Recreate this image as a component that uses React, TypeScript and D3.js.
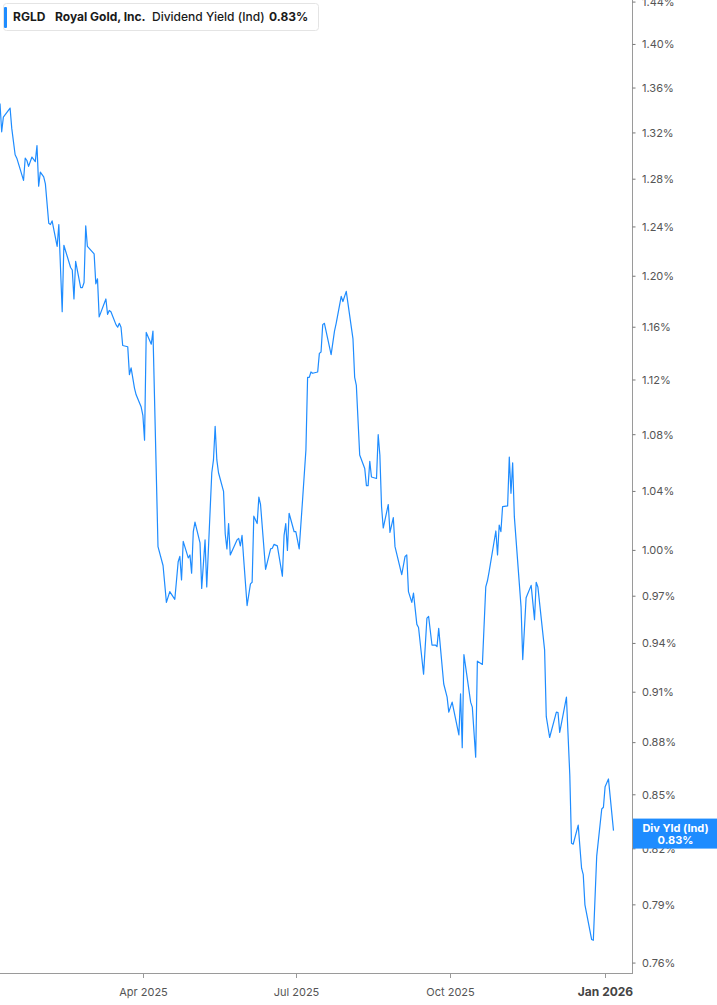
import * as React from 'react';
import * as d3 from 'd3';

// RGLD dividend yield (indicated)
const dates = [
  '2025-01-06', '2025-01-07', '2025-01-08', '2025-01-10', '2025-01-12', '2025-01-13', '2025-01-15', '2025-01-16', '2025-01-20', '2025-01-21',
  '2025-01-22', '2025-01-23', '2025-01-25', '2025-01-27', '2025-01-28', '2025-01-29', '2025-01-30', '2025-02-01', '2025-02-02', '2025-02-04',
  '2025-02-05', '2025-02-06', '2025-02-09', '2025-02-10', '2025-02-12', '2025-02-13', '2025-02-17', '2025-02-18', '2025-02-19', '2025-02-20',
  '2025-02-23', '2025-02-24', '2025-02-25', '2025-02-26', '2025-02-27', '2025-03-03', '2025-03-04', '2025-03-05', '2025-03-06', '2025-03-10',
  '2025-03-11', '2025-03-12', '2025-03-13', '2025-03-16', '2025-03-17', '2025-03-18', '2025-03-19', '2025-03-20', '2025-03-23', '2025-03-24',
  '2025-03-25', '2025-03-27', '2025-03-28', '2025-03-31', '2025-04-01', '2025-04-02', '2025-04-03', '2025-04-06', '2025-04-07', '2025-04-10',
  '2025-04-13', '2025-04-15', '2025-04-17', '2025-04-20', '2025-04-22', '2025-04-23', '2025-04-24', '2025-04-25', '2025-04-28', '2025-04-29',
  '2025-04-30', '2025-05-01', '2025-05-02', '2025-05-05', '2025-05-06', '2025-05-08', '2025-05-09', '2025-05-12', '2025-05-13', '2025-05-14',
  '2025-05-15', '2025-05-16', '2025-05-19', '2025-05-20', '2025-05-21', '2025-05-22', '2025-05-23', '2025-05-27', '2025-05-28', '2025-05-29',
  '2025-05-30', '2025-05-31', '2025-06-02', '2025-06-04', '2025-06-05', '2025-06-06', '2025-06-08', '2025-06-09', '2025-06-10', '2025-06-13',
  '2025-06-16', '2025-06-17', '2025-06-18', '2025-06-20', '2025-06-23', '2025-06-24', '2025-06-25', '2025-06-26', '2025-06-27', '2025-06-30',
  '2025-07-01', '2025-07-03', '2025-07-05', '2025-07-07', '2025-07-08', '2025-07-09', '2025-07-10', '2025-07-11', '2025-07-14', '2025-07-15',
  '2025-07-16', '2025-07-17', '2025-07-18', '2025-07-22', '2025-07-24', '2025-07-25', '2025-07-28', '2025-07-29', '2025-07-31', '2025-08-04',
  '2025-08-05', '2025-08-06', '2025-08-08', '2025-08-11', '2025-08-12', '2025-08-13', '2025-08-14', '2025-08-15', '2025-08-18', '2025-08-19',
  '2025-08-20', '2025-08-21', '2025-08-22', '2025-08-25', '2025-08-26', '2025-08-28', '2025-08-29', '2025-09-02', '2025-09-04', '2025-09-05',
  '2025-09-06', '2025-09-08', '2025-09-09', '2025-09-11', '2025-09-12', '2025-09-15', '2025-09-17', '2025-09-18', '2025-09-20', '2025-09-22',
  '2025-09-23', '2025-09-24', '2025-09-27', '2025-09-29', '2025-09-30', '2025-10-02', '2025-10-06', '2025-10-07', '2025-10-08', '2025-10-09',
  '2025-10-13', '2025-10-14', '2025-10-16', '2025-10-17', '2025-10-20', '2025-10-22', '2025-10-23', '2025-10-24', '2025-10-28', '2025-10-29',
  '2025-10-30', '2025-10-31', '2025-11-01', '2025-11-04', '2025-11-05', '2025-11-06', '2025-11-07', '2025-11-08', '2025-11-12', '2025-11-13',
  '2025-11-15', '2025-11-18', '2025-11-20', '2025-11-21', '2025-11-22', '2025-11-26', '2025-11-27', '2025-11-29', '2025-12-03', '2025-12-04',
  '2025-12-05', '2025-12-09', '2025-12-11', '2025-12-12', '2025-12-13', '2025-12-16', '2025-12-18', '2025-12-19', '2025-12-20', '2025-12-24',
  '2025-12-25', '2025-12-27', '2025-12-30', '2025-12-31', '2026-01-01', '2026-01-03', '2026-01-06',
];

const yields = [
  1.346, 1.321, 1.334, 1.338, 1.342, 1.324, 1.301, 1.298, 1.279, 1.298,
  1.296, 1.291, 1.299, 1.295, 1.309, 1.274, 1.286, 1.282, 1.276, 1.243,
  1.242, 1.245, 1.224, 1.242, 1.172, 1.225, 1.207, 1.205, 1.182, 1.212,
  1.191, 1.191, 1.195, 1.241, 1.224, 1.218, 1.194, 1.198, 1.168, 1.182,
  1.170, 1.173, 1.172, 1.162, 1.160, 1.163, 1.160, 1.146, 1.145, 1.124,
  1.129, 1.114, 1.109, 1.100, 1.094, 1.076, 1.156, 1.147, 1.157, 1.0025,
  0.990, 0.966, 0.973, 0.968, 0.9925, 0.996, 0.9805, 1.006, 0.995, 0.997,
  0.985, 1.0125, 1.019, 1.005, 0.975, 1.007, 0.976, 1.053, 1.062, 1.086,
  1.062, 1.053, 1.040, 1.011, 1.001, 1.018, 0.997, 1.007, 1.008, 1.003,
  1.010, 0.994, 0.964, 0.978, 0.979, 1.023, 1.018, 1.036, 1.031, 0.9875,
  1.001, 1.0014, 1.004, 1.003, 0.983, 1.010, 1.018, 1.000, 1.025, 1.0125,
  1.0125, 1.001, 1.034, 1.069, 1.122, 1.122, 1.126, 1.125, 1.126, 1.140,
  1.141, 1.162, 1.163, 1.139, 1.157, 1.163, 1.184, 1.180, 1.188, 1.151,
  1.122, 1.116, 1.0655, 1.056, 1.044, 1.044, 1.061, 1.050, 1.049, 1.080,
  1.0655, 1.0295, 1.015, 1.031, 1.012, 1.022, 1.0025, 0.984, 0.996, 0.997,
  0.973, 0.966, 0.972, 0.952, 0.950, 0.921, 0.956, 0.957, 0.939, 0.939,
  0.938, 0.9495, 0.915, 0.907, 0.898, 0.904, 0.8845, 0.909, 0.877, 0.933,
  0.904, 0.901, 0.8715, 0.929, 0.927, 0.976, 0.980, 0.986, 1.013, 0.997,
  1.017, 1.0125, 1.0295, 1.030, 1.064, 1.0387, 1.060, 1.0227, 0.963, 0.930,
  0.969, 0.977, 0.955, 0.979, 0.976, 0.936, 0.8953, 0.883, 0.898, 0.8977,
  0.886, 0.907, 0.861, 0.823, 0.8225, 0.833, 0.8095, 0.806, 0.790, 0.772,
  0.7716, 0.816, 0.842, 0.843, 0.8546, 0.859, 0.83,
];

const yTicks = [0.76, 0.79, 0.82, 0.85, 0.88, 0.91, 0.94, 0.97, 1.0, 1.04, 1.08, 1.12, 1.16, 1.2, 1.24, 1.28, 1.32, 1.36, 1.4, 1.44];
const xTicks = ['2025-04-01', '2025-07-01', '2025-10-01', '2026-01-01'];
const xTickLabels = ['Apr 2025', 'Jul 2025', 'Oct 2025', 'Jan 2026'];

const W = 717;
const H = 1005;
const plotRight = 632;
const plotBottom = 973;
const blue = '#1e8cff';
const font = "Inter, 'Noto Sans', sans-serif";

export default function App() {
  const ref = React.useRef<SVGSVGElement>(null);

  React.useEffect(() => {
    const svg = d3.select(ref.current);
    svg.selectAll('*').remove();

    const parse = d3.timeParse('%Y-%m-%d');
    const data = dates.map((d, i) => ({ date: parse(d) as Date, value: yields[i] }));

    const x = d3.scaleTime()
      .domain([parse('2025-01-06') as Date, parse('2026-01-17') as Date])
      .range([0, plotRight]);
    const y = d3.scaleLog().domain([0.755, 1.442]).range([plotBottom, 0]);

    // price line
    const line = d3.line<{ date: Date; value: number }>()
      .x(d => x(d.date))
      .y(d => y(d.value));

    svg.append('path')
      .datum(data)
      .attr('fill', 'none')
      .attr('stroke', blue)
      .attr('stroke-width', 1.2)
      .attr('stroke-linejoin', 'round')
      .attr('d', line);

    // right axis
    const yAxis = svg.append('g');
    yAxis.append('line')
      .attr('x1', plotRight + 0.5).attr('x2', plotRight + 0.5)
      .attr('y1', 0).attr('y2', plotBottom)
      .attr('stroke', '#9a9a9a');
    const yt = yAxis.selectAll('g.tick').data(yTicks).enter().append('g')
      .attr('transform', d => `translate(${plotRight},${y(d)})`);
    yt.append('line').attr('x1', 0.5).attr('x2', 3.5).attr('stroke', '#777');
    yt.append('text')
      .attr('x', 10)
      .attr('dy', '0.35em')
      .attr('font-family', font)
      .attr('font-size', 11)
      .attr('fill', '#555')
      .text(d => d3.format('.2f')(d) + '%');

    // bottom axis
    const xAxis = svg.append('g');
    xAxis.append('line')
      .attr('x1', 0).attr('x2', plotRight + 1)
      .attr('y1', plotBottom + 0.5).attr('y2', plotBottom + 0.5)
      .attr('stroke', '#9a9a9a');
    const xt = xAxis.selectAll('g.tick').data(xTicks).enter().append('g')
      .attr('transform', d => `translate(${Math.round(x(parse(d) as Date)) + 0.5},${plotBottom})`);
    xt.append('line').attr('y1', 0).attr('y2', 5).attr('stroke', '#999');
    xt.append('text')
      .attr('y', 23)
      .attr('text-anchor', 'middle')
      .attr('font-family', font)
      .attr('font-size', (d, i) => (i === xTicks.length - 1 ? 12 : 11))
      .attr('font-weight', (d, i) => (i === xTicks.length - 1 ? 700 : 400))
      .attr('fill', (d, i) => (i === xTicks.length - 1 ? '#444' : '#555'))
      .text((d, i) => xTickLabels[i]);

    // last value tag
    const last = data[data.length - 1];
    const cy = y(last.value) + 3;
    const tag = svg.append('g');
    tag.append('rect')
      .attr('x', plotRight + 1).attr('y', cy - 15)
      .attr('width', W - plotRight - 1).attr('height', 30)
      .attr('fill', blue);
    tag.append('text')
      .attr('x', (plotRight + W) / 2 + 1).attr('y', cy - 2)
      .attr('text-anchor', 'middle')
      .attr('font-family', font).attr('font-size', 11).attr('font-weight', 700)
      .attr('fill', '#fff')
      .text('Div Yld (Ind)');
    tag.append('text')
      .attr('x', (plotRight + W) / 2 + 1).attr('y', cy + 10)
      .attr('text-anchor', 'middle')
      .attr('font-family', font).attr('font-size', 11).attr('font-weight', 700)
      .attr('fill', '#fff')
      .text(d3.format('.2f')(last.value) + '%');

    // legend
    const lg = svg.append('g');
    lg.append('rect')
      .attr('x', 3.5).attr('y', 3.5).attr('width', 315).attr('height', 27).attr('rx', 3)
      .attr('fill', '#fff').attr('stroke', '#e4e4e4');
    lg.append('rect')
      .attr('x', 4).attr('y', 7).attr('width', 3).attr('height', 21).attr('rx', 1)
      .attr('fill', blue);
    const items = [
      { t: 'RGLD', x: 13, w: 700 },
      { t: 'Royal Gold, Inc.', x: 55, w: 700 },
      { t: 'Dividend Yield (Ind)', x: 152, w: 500 },
      { t: d3.format('.2f')(last.value) + '%', x: 269, w: 700 },
    ];
    lg.selectAll('text.item').data(items).enter().append('text')
      .attr('x', d => d.x).attr('y', 21)
      .attr('font-family', font).attr('font-size', 12)
      .attr('font-weight', d => d.w)
      .attr('fill', '#1a1a1a')
      .text(d => d.t);
  }, []);

  return (
    <svg
      ref={ref}
      width={W}
      height={H}
      style={{ position: 'absolute', left: 0, top: 0, background: '#fff', display: 'block' }}
    />
  );
}
